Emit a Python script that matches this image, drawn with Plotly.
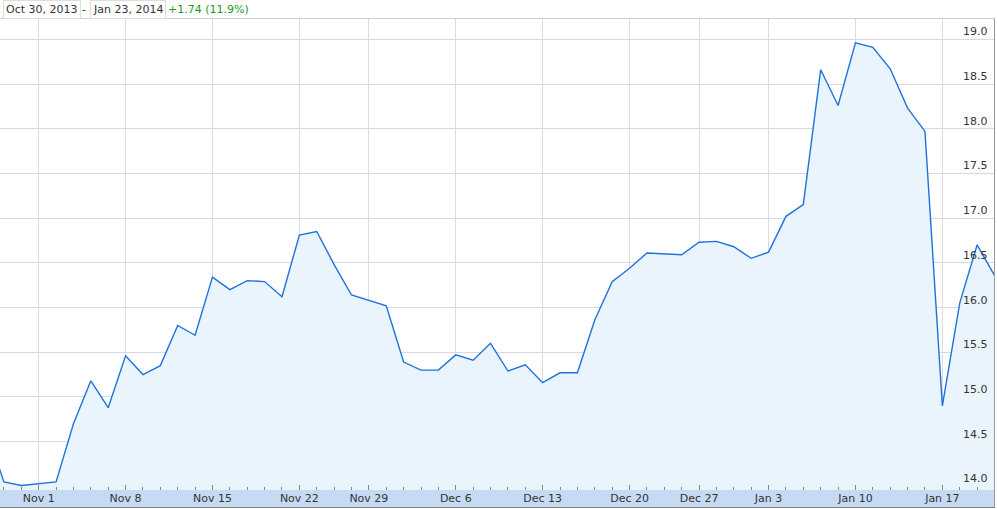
import plotly.graph_objects as go

dates = ["Oct 29", "Oct 30", "Oct 31", "Nov 1", "Nov 4", "Nov 5", "Nov 6", "Nov 7", "Nov 8",
         "Nov 11", "Nov 12", "Nov 13", "Nov 14", "Nov 15", "Nov 18", "Nov 19", "Nov 20", "Nov 21",
         "Nov 22", "Nov 25", "Nov 26", "Nov 27", "Nov 29", "Dec 2", "Dec 3", "Dec 4", "Dec 5",
         "Dec 6", "Dec 9", "Dec 10", "Dec 11", "Dec 12", "Dec 13", "Dec 16", "Dec 17", "Dec 18",
         "Dec 19", "Dec 20", "Dec 23", "Dec 24", "Dec 26", "Dec 27", "Dec 30", "Dec 31", "Jan 2",
         "Jan 3", "Jan 6", "Jan 7", "Jan 8", "Jan 9", "Jan 10", "Jan 13", "Jan 14", "Jan 15",
         "Jan 16", "Jan 17", "Jan 21", "Jan 22", "Jan 23"]

prices = [14.62, 14.05, 14.01, 14.03, 14.05, 14.70, 15.18, 14.88, 15.46, 15.25, 15.35, 15.80,
          15.69, 16.34, 16.20, 16.30, 16.29, 16.12, 16.81, 16.85, 16.48, 16.14, 16.08, 16.02,
          15.39, 15.30, 15.30, 15.47, 15.41, 15.60, 15.29, 15.36, 15.16, 15.27, 15.27, 15.86,
          16.29, 16.44, 16.61, 16.60, 16.59, 16.73, 16.74, 16.68, 16.55, 16.62, 17.02, 17.15,
          18.66, 18.26, 18.96, 18.91, 18.67, 18.23, 17.97, 14.90, 16.05, 16.70, 16.36]

x_tick_labels = ["Nov 1", "Nov 8", "Nov 15", "Nov 22", "Nov 29", "Dec 6", "Dec 13",
                 "Dec 20", "Dec 27", "Jan 3", "Jan 10", "Jan 17"]
y_ticks = [14.0, 14.5, 15.0, 15.5, 16.0, 16.5, 17.0, 17.5, 18.0, 18.5, 19.0]

header_start = "Oct 30, 2013"
header_end = "Jan 23, 2014"
header_change = "+1.74 (11.9%)"

idx = list(range(len(dates)))
x_tickvals = [dates.index(t) for t in x_tick_labels]

FONT = "DejaVu Sans"
W, H = 997, 509
L, R, T, B = 0, 2, 19, 19
PW = W - L - R
PH = H - T - B

fig = go.Figure()
fig.add_trace(go.Scatter(
    x=idx, y=prices, mode="lines",
    line=dict(color="#1f72dc", width=1.4),
    fill="tozeroy", fillcolor="#eaf4fd",
    customdata=dates,
    hovertemplate="%{customdata}: %{y:.2f}<extra></extra>",
))

annotations = []
for v in y_ticks:
    annotations.append(dict(
        x=990 / PW, xref="paper", xanchor="right",
        y=v, yref="y", yanchor="bottom", yshift=-1,
        text=f"{v:.1f}", showarrow=False,
        font=dict(family=FONT, size=11, color="#333333"),
    ))


def py(ypx):
    return (H - B - ypx) / PH


annotations += [
    dict(x=3 / PW, xref="paper", xanchor="left", y=py(9), yref="paper", yanchor="middle",
         text=header_start, showarrow=False, bordercolor="#dddddd", borderwidth=1, borderpad=2,
         bgcolor="white", font=dict(family=FONT, size=11, color="#333333")),
    dict(x=84 / PW, xref="paper", xanchor="center", y=py(9), yref="paper", yanchor="middle",
         text="-", showarrow=False, font=dict(family=FONT, size=11, color="#333333")),
    dict(x=90 / PW, xref="paper", xanchor="left", y=py(9), yref="paper", yanchor="middle",
         text=header_end, showarrow=False, bordercolor="#dddddd", borderwidth=1, borderpad=2,
         bgcolor="white", font=dict(family=FONT, size=11, color="#333333")),
    dict(x=166 / PW, xref="paper", xanchor="left", y=py(9), yref="paper", yanchor="middle",
         text=header_change, showarrow=False,
         font=dict(family=FONT, size=11, color="#1e9a1e")),
]

shapes = [
    # bottom axis band
    dict(type="rect", xref="paper", yref="paper", x0=0, x1=995 / PW, y0=py(507), y1=py(490),
         fillcolor="#c6dbf3", line=dict(width=0), layer="below"),
    dict(type="line", xref="paper", yref="paper", x0=0, x1=995 / PW, y0=py(507.5), y1=py(507.5),
         line=dict(color="#7f7f7f", width=1), layer="below"),
    # top border
    dict(type="line", xref="paper", yref="paper", x0=0, x1=995 / PW, y0=py(18.5), y1=py(18.5),
         line=dict(color="#cccccc", width=1), layer="below"),
    # right border
    dict(type="line", xref="paper", yref="paper", x0=994.5 / PW, x1=994.5 / PW,
         y0=py(507), y1=py(18.5), line=dict(color="#999999", width=1), layer="above"),
]

fig.update_layout(
    width=W, height=H,
    margin=dict(l=L, r=R, t=T, b=B, pad=0),
    paper_bgcolor="white", plot_bgcolor="white",
    showlegend=False,
    annotations=annotations,
    shapes=shapes,
    xaxis=dict(
        range=[0.773, 58.03],
        tickvals=x_tickvals, ticktext=x_tick_labels,
        ticks="inside", ticklen=5, tickcolor="#888888", tickwidth=1,
        minor=dict(dtick=1, tick0=0, ticks="inside", ticklen=3, tickcolor="#888888",
                   showgrid=False),
        showgrid=True, gridcolor="#dcdce0", gridwidth=1,
        zeroline=False, showline=False,
        tickfont=dict(family=FONT, size=11, color="#333333"),
        fixedrange=True,
    ),
    yaxis=dict(
        range=[13.959, 19.227],
        tickvals=y_ticks, showticklabels=False, ticks="",
        showgrid=True, gridcolor="#d8d6e8", gridwidth=1,
        zeroline=False, showline=False,
        fixedrange=True,
    ),
)

fig.write_html(
    "out.html",
    config={"displayModeBar": False},
    post_script="document.body.style.margin='0';document.body.style.padding='0';"
                "document.body.style.overflow='hidden';",
)
